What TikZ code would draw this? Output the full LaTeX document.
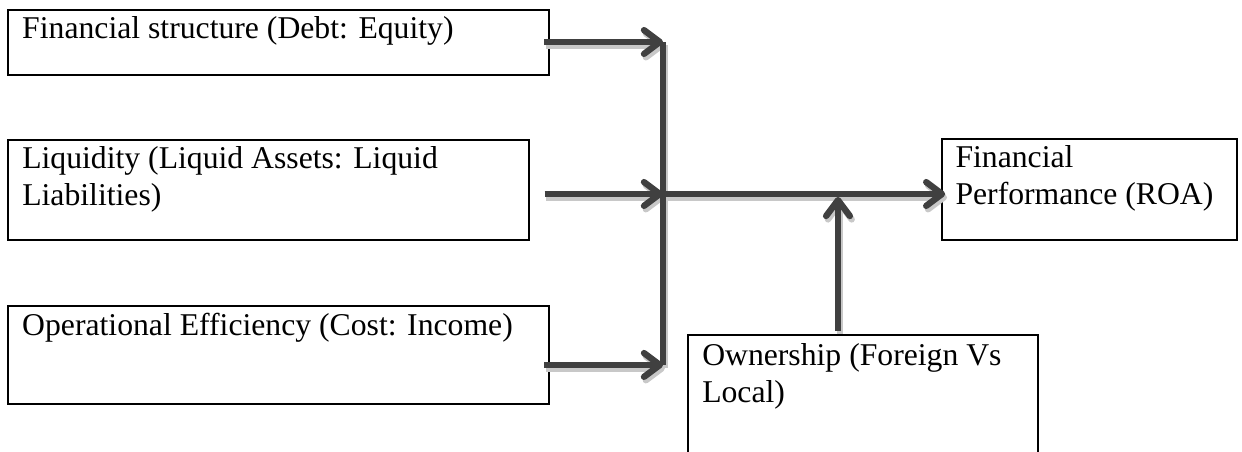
\documentclass[tikz,border=0pt]{standalone}
\usepackage{fontspec}
\setmainfont{Liberation Serif}
\usetikzlibrary{arrows.meta}
\definecolor{linegrey}{HTML}{404040}
\definecolor{shadowgrey}{HTML}{C8C8C8}

\begin{document}
\begin{tikzpicture}[
  boxed/.style={draw, line width=1pt, inner sep=0pt},
  txt/.style={anchor=north west, inner sep=0pt, align=left, font=\fontsize{12}{14}\selectfont},
  bus/.style={line width=2.4pt},
  flow/.style={bus, -{Straight Barb[length=6pt,width=9pt,round]}}]
\useasboundingbox (0,0) rectangle (16.526,6.014);
\node[boxed, minimum width=7.199cm, minimum height=0.865cm] (fin) at (3.706,5.449) {};
\node[boxed, minimum width=6.932cm, minimum height=1.331cm] (liq) at (3.573,3.486) {};
\node[boxed, minimum width=7.199cm, minimum height=1.304cm] (ops) at (3.706,1.291) {};
\node[boxed, minimum width=3.925cm, minimum height=1.344cm] (perf) at (14.497,3.493) {};
\node[boxed, minimum width=4.657cm, minimum height=1.796cm] (own) at (11.483,0.659) {};
\node[txt] (fintxt) at ([xshift=0.2cm,yshift=-0.1cm]fin.north west) {Financial structure (Debt: Equity)};
\node[txt] (liqtxt) at ([xshift=0.2cm,yshift=-0.1cm]liq.north west) {Liquidity (Liquid Assets: Liquid\\Liabilities)};
\node[txt] (opstxt) at ([xshift=0.2cm,yshift=-0.1cm]ops.north west) {Operational Efficiency (Cost: Income)};
\node[txt] (perftxt) at ([xshift=0.19cm,yshift=-0.1cm]perf.north west) {Financial\\Performance (ROA)};
\node[txt] (owntxt) at ([xshift=0.2cm,yshift=-0.12cm]own.north west) {Ownership (Foreign Vs\\Local)};
\coordinate (j1) at (8.822,5.455);
\coordinate (j2) at (8.822,3.433);
\coordinate (j3) at (8.822,1.158);
\coordinate (j4) at (11.150,3.433);
\foreach \col/\sx/\sy in {shadowgrey/0.7pt/-1.3pt,linegrey/0pt/0pt}{
\begin{scope}[draw=\col, transform canvas={shift={(\sx,\sy)}}]
\draw[bus] (j1) -- (j3);
\draw[bus] (j2) -- (j4);
\draw[flow] ([xshift=-0.08cm]fin.east |- j1) -- (j1);
\draw[flow] ([xshift=0.19cm]liq.east |- j2) -- (j2);
\draw[flow] ([xshift=-0.08cm]ops.east |- j3) -- (j3);
\draw[flow] (j4) -- ([xshift=0.06cm]perf.west |- j2);
\draw[flow] ([yshift=0.04cm]j4 |- own.north) -- ([yshift=-0.04cm]j4);
\end{scope}
}
\end{tikzpicture}
\end{document}
